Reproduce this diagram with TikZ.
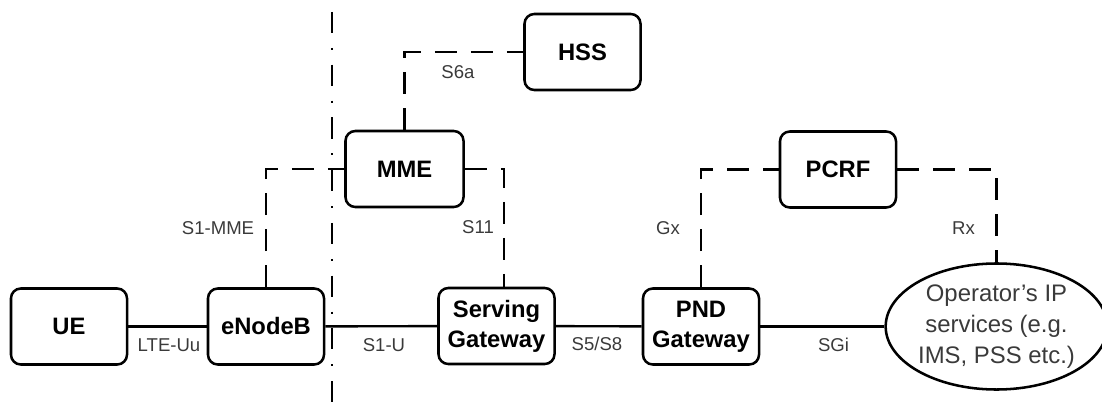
\documentclass[tikz,border=0pt]{standalone}
\usepackage{fontspec}
\setmainfont{Liberation Sans}
\usetikzlibrary{calc,shapes.geometric}
\definecolor{lblgray}{HTML}{3A3A3A}

\begin{document}
\begin{tikzpicture}[x=0.025cm,y=-0.025cm,
  box/.style={draw,line width=1.8pt,rounded corners=7pt,minimum width=2.9cm,
    minimum height=1.9cm,inner sep=0pt,align=center,
    font=\fontsize{16.9}{21.3}\selectfont\bfseries},
  lbl/.style={font=\fontsize{13.2}{16}\selectfont,text=lblgray,inner sep=0pt},
  link/.style={line width=1.7pt},
  iface/.style={line width=1.7pt,dash pattern=on 15.6pt off 10pt}]
  \useasboundingbox (0,0) rectangle (1102,407);
  \node[box] (ue) at (69,326.5) {UE};
  \node[box] (enb) at (266,326.5) {eNodeB};
  \node[box] (sgw) at (496.5,326) {Serving\\Gateway};
  \node[box] (pnd) at (701,326.5) {PND\\Gateway};
  \node[box,minimum width=2.95cm] (mme) at (404.5,169) {MME};
  \node[box] (hss) at (582.5,52) {HSS};
  \node[box] (pcrf) at (838,169.5) {PCRF};
  \node[draw,ellipse,line width=1.8pt,minimum width=5.1cm,minimum height=3.15cm,
    inner sep=0pt,align=center,text=lblgray,font=\fontsize{17}{22}\selectfont]
    (ip) at (996.5,326.5) {Operator's IP\\services (e.g.\\IMS, PSS etc.)};
  \coordinate (cuttop) at (332,12);
  \coordinate (cutbot) at (332,407);

  \draw[link] (ue) -- (enb);
  \draw[link] (enb) -- (sgw);
  \draw[link] (sgw) -- (pnd);
  \draw[link] (pnd) -- (ip);
  \draw[iface] (enb.north) |- (mme.west);
  \draw[iface] (mme.east) -| ($(sgw.north)+(7.5,0)$);
  \draw[iface] (mme.north) |- (hss.west);
  \draw[iface] (pnd.north) |- (pcrf.west);
  \draw[iface] (pcrf.east) -| (ip.north);
  \draw[line width=1.5pt,dash pattern=on 15pt off 10.5pt on 1.5pt off 10.5pt]
    (cuttop) -- (cutbot);

  \node[lbl] (luu) at (169,345) {LTE-Uu};
  \node[lbl] (ls1u) at (384,345) {S1-U};
  \node[lbl] (ls5) at (597,344) {S5/S8};
  \node[lbl] (lsgi) at (833.5,345) {SGi};
  \node[lbl] (ls1mme) at (218,228) {S1-MME};
  \node[lbl] (ls11) at (478,227) {S11};
  \node[lbl] (ls6a) at (458,72) {S6a};
  \node[lbl] (lgx) at (668,228) {Gx};
  \node[lbl] (lrx) at (963.5,228) {Rx};
\end{tikzpicture}
\end{document}
